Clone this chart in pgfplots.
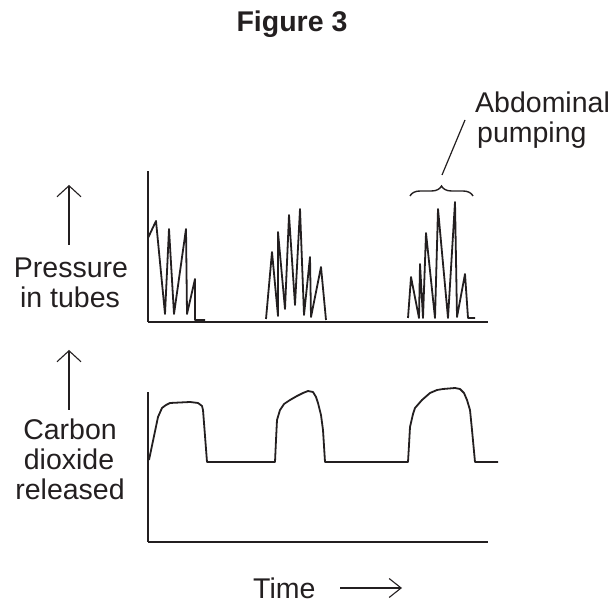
\documentclass[border=0pt]{standalone}
\usepackage{pgfplots}
\pgfplotsset{compat=1.18}
\usepackage{fontspec}
\setmainfont{Liberation Sans}
\usetikzlibrary{arrows.meta,decorations.pathreplacing}
\definecolor{ink}{HTML}{231F20}

\begin{document}
\begin{tikzpicture}[x=1pt,y=1pt]
\useasboundingbox (0,0) rectangle (615,607);
\pgfplotsset{myax/.style={scale only axis, axis lines=left,
  axis line style={-, line width=2.3pt, color=ink},
  xtick=\empty, ytick=\empty, clip=false,
  xmin=148, xmax=488, width=340pt}}
\begin{axis}[myax, at={(148pt,285pt)}, anchor=south west, ymin=285, ymax=436, height=151pt]
\addplot[ink, line width=1.8pt, line join=round] coordinates {
(148,369) (156,386) (165,293) (169,378) (174,293) (186,378) (187,293) (195,328) (195,287) (205,287)};
\addplot[ink, line width=1.8pt, line join=round] coordinates {
(266,288) (272,355) (278,291) (278,375) (285,298) (289,392) (295,302) (300,398) (304,292) (310,350) (311,290) (321,340) (326,287)};
\addplot[ink, line width=1.8pt, line join=round] coordinates {
(408,289) (411,330) (419,289) (420,343) (423,289) (426,374) (435,289) (438,398) (448,289) (455,405) (457,290) (465,333) (468,289) (475,289)};
\draw[ink, decorate, decoration={brace, amplitude=10pt}, line width=1.4pt] (axis cs:410,411) -- (axis cs:473,411);
\draw[ink, line width=1.2pt] (axis cs:442,432) -- (axis cs:465,487);
\end{axis}
\begin{axis}[myax, at={(148pt,65pt)}, anchor=south west, ymin=65, ymax=215, height=150pt]
\addplot[ink, line width=1.8pt, line join=round] coordinates {
(149,147) (158,190) (162,199) (166,202) (170,204) (190,205) (198,204) (202,201) (203,197) (207,145)
(275,145) (276,167) (277,187) (280,197) (284,203) (290,207) (297,211) (303,214) (308,216) (313,215) (316,210) (318,204) (321,192) (323,177) (325,145)
(408,145) (409,162) (410,180) (413,193) (415,199) (422,207) (430,214) (437,217) (443,218) (455,219) (460,218) (464,214) (467,207) (470,197) (472,177) (475,145) (498,145)};
\end{axis}
\begin{scope}[every node/.style={inner sep=0pt, text=ink, font=\fontsize{28.5}{34}\selectfont}]
\node[anchor=base, font=\fontsize{28.5}{34}\selectfont\bfseries] at (292,575) {Figure 3};
\node[anchor=base] at (71,329) {Pressure};
\node[anchor=base] at (70,299) {in tubes};
\node[anchor=base] at (70,167) {Carbon};
\node[anchor=base] at (69,137) {dioxide};
\node[anchor=base] at (70,107) {released};
\node[anchor=base west] at (475,494) {Abdominal};
\node[anchor=base west] at (477,464) {pumping};
\node[anchor=base west] at (253,9) {Time};
\end{scope}
\draw[ink, line width=1.1pt, -{Straight Barb[length=11pt,width=24pt,line width=1.1pt]}] (69,362) -- (69,422);
\draw[ink, line width=1.1pt, -{Straight Barb[length=11pt,width=24pt,line width=1.1pt]}] (69,197) -- (69,257);
\draw[ink, line width=1.1pt, -{Straight Barb[length=12pt,width=19pt,line width=1.1pt]}] (340,19) -- (402,19);
\end{tikzpicture}
\end{document}
